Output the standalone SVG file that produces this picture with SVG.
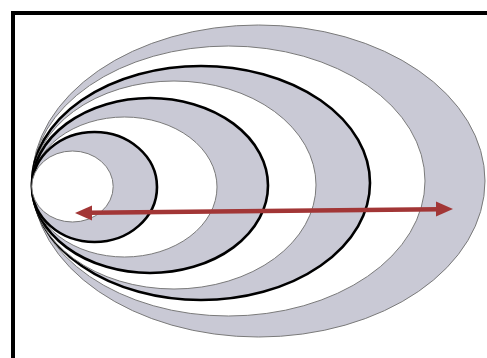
<svg xmlns="http://www.w3.org/2000/svg" width="487" height="358" viewBox="0 0 487 358">
<style>
.g{fill:#c9c9d5}
.w{fill:#ffffff}
.thin{stroke:#7a7a7a;stroke-width:1}
.thick{stroke:#000;stroke-width:2.6}
.arr{stroke:#a23636;stroke-width:4.5;fill:none}
.head{fill:#a23636}
</style>
<rect x="0" y="0" width="487" height="358" fill="#fff"/>
<rect x="13" y="13" width="490" height="360" fill="none" stroke="#000" stroke-width="4"/>
<g id="ellipses">
<ellipse id="e8" class="g thin" cx="258.5" cy="181" rx="226.5" ry="156"/>
<ellipse id="e7" class="w thin" cx="228.5" cy="181" rx="196.5" ry="135"/>
<ellipse id="e6" class="g thick" cx="201" cy="183" rx="169" ry="117"/>
<ellipse id="e5" class="w thin" cx="174" cy="185" rx="142" ry="104"/>
<ellipse id="e4" class="g thick" cx="150" cy="185.5" rx="118" ry="87.5"/>
<ellipse id="e3" class="w thin" cx="124.5" cy="187" rx="92.5" ry="70"/>
<ellipse id="e2" class="g thick" cx="94.5" cy="187" rx="62.5" ry="55"/>
<ellipse id="e1" class="w thin" cx="72.5" cy="186.5" rx="40.7" ry="35.5"/>
</g>
<g id="connectors">
<line class="arr" x1="89" y1="212.8" x2="439" y2="209.2"/>
<polygon class="head" points="75,213 92,205.5 92,220.5"/>
<polygon class="head" points="453,209 436,201.5 436,216.5"/>
</g>
</svg>
